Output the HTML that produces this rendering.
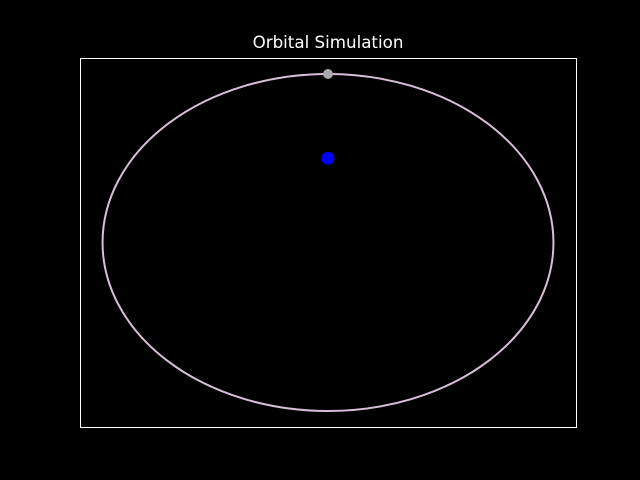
<!DOCTYPE html>
<html><head><meta charset="utf-8"><style>
body{margin:0;background:#000;}
svg{display:block;font-family:"DejaVu Sans","Liberation Sans",sans-serif;}
</style></head><body>
<svg id="chart" width="640" height="480">
<rect x="0" y="0" width="640" height="480" fill="#000"/>
<text x="328" y="48" fill="#fff" font-size="16.7" text-anchor="middle">Orbital Simulation</text>
<rect x="80.5" y="58.5" width="496" height="369" fill="none" stroke="#fff" stroke-width="1"/>
<g id="marks"></g>
</svg>
<script>
const xDomain = [-1.1, 1.1];
const yDomain = [-1.095, 1.095];
const orbitAxes = [1.0, 1.0];
const sunPos = [0, 0.5];
const planetPos = [0, 1.0];
const L=80,R=576,T=58,B=427;
const sx=v=>L+(v-xDomain[0])/(xDomain[1]-xDomain[0])*(R-L);
const sy=v=>B-(v-yDomain[0])/(yDomain[1]-yDomain[0])*(B-T);
const NS="http://www.w3.org/2000/svg";
const g=document.getElementById('marks');
const e=document.createElementNS(NS,'ellipse');
e.setAttribute('cx',sx(0));e.setAttribute('cy',sy(0));
e.setAttribute('rx',sx(orbitAxes[0])-sx(0));e.setAttribute('ry',sy(0)-sy(orbitAxes[1]));
e.setAttribute('fill','none');e.setAttribute('stroke','#d8bfd8');e.setAttribute('stroke-width','2');


g.appendChild(e);
const s=document.createElementNS(NS,'circle');
s.setAttribute('cx',sx(sunPos[0]));s.setAttribute('cy',sy(sunPos[1]));s.setAttribute('r','6.5');s.setAttribute('fill','#0000ff');


g.appendChild(s);
const p=document.createElementNS(NS,'circle');
p.setAttribute('cx',sx(planetPos[0]));p.setAttribute('cy',sy(planetPos[1]));p.setAttribute('r','5');p.setAttribute('fill','#a9a9a9');


g.appendChild(p);
</script>
</body></html>
